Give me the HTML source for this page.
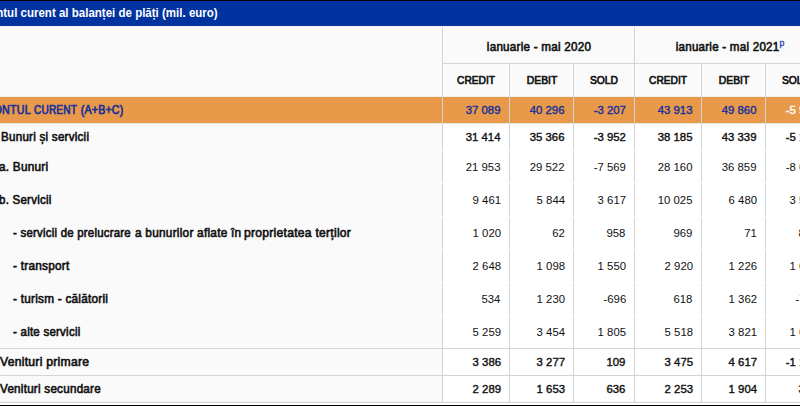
<!DOCTYPE html>
<html lang="ro"><head><meta charset="utf-8"><title>Contul curent al balantei de plati</title>
<style>
html,body{margin:0;padding:0;}
body{width:800px;height:406px;overflow:hidden;background:#fff;position:relative;font-family:"Liberation Sans",sans-serif;font-size:11.6px;color:#111;}
.b{position:absolute;}
.t{position:absolute;white-space:nowrap;line-height:14px;height:14px;}
.L{transform-origin:0 50%;}
.R{transform-origin:100% 50%;text-align:right;}
.C{transform-origin:50% 50%;text-align:center;width:240px;}
.bold{font-weight:bold;}
.semi{-webkit-text-stroke:0.6px currentColor;}
.lab{font-size:12px;letter-spacing:0.25px;}
.semin{-webkit-text-stroke:0.4px currentColor;}
.semi2{-webkit-text-stroke:0.7px currentColor;}
.navy{color:#17309a;}
</style></head><body>
<div class="b" style="left:0px;top:27px;width:442px;height:375px;background:#fafafa"></div>
<div class="b" style="left:442px;top:27px;width:358px;height:70px;background:#fafafa"></div>
<div class="b" style="left:0px;top:0px;width:800px;height:1px;background:#000"></div>
<div class="b" style="left:0px;top:1px;width:800px;height:25px;background:#0033a0"></div>
<div class="b" style="left:0px;top:97px;width:800px;height:26px;background:#e8994a"></div>
<div class="b" style="left:0px;top:405px;width:800px;height:1px;background:#000"></div>
<div class="b" style="left:442px;top:63px;width:358px;height:1px;background:#d2d4d6"></div>
<div class="b" style="left:0px;top:96px;width:800px;height:1px;background:#eef0f2"></div>
<div class="b" style="left:0px;top:26px;width:800px;height:1px;background:#f3f2ef"></div>
<div class="b" style="left:0px;top:123px;width:800px;height:1px;background:#e4e7eb"></div>
<div class="b" style="left:0px;top:348px;width:800px;height:1px;background:#d2d4d6"></div>
<div class="b" style="left:0px;top:375px;width:800px;height:1px;background:#d2d4d6"></div>
<div class="b" style="left:0px;top:402px;width:800px;height:1px;background:#d2d4d6"></div>
<div class="b" style="left:442px;top:27px;width:1px;height:375px;background:#d2d4d6"></div>
<div class="b" style="left:509px;top:64px;width:1px;height:338px;background:#d2d4d6"></div>
<div class="b" style="left:573px;top:64px;width:1px;height:338px;background:#d2d4d6"></div>
<div class="b" style="left:634px;top:27px;width:1px;height:375px;background:#d2d4d6"></div>
<div class="b" style="left:701px;top:64px;width:1px;height:338px;background:#d2d4d6"></div>
<div class="b" style="left:765px;top:64px;width:1px;height:338px;background:#d2d4d6"></div>
<div class="b" style="left:442px;top:150px;width:358px;height:1px;background:#fff"></div>
<div class="b" style="left:0px;top:150px;width:442px;height:1px;background:#fafafa"></div>
<div class="b" style="left:442px;top:183px;width:358px;height:1px;background:#fff"></div>
<div class="b" style="left:0px;top:183px;width:442px;height:1px;background:#fafafa"></div>
<div class="b" style="left:442px;top:216px;width:358px;height:1px;background:#fff"></div>
<div class="b" style="left:0px;top:216px;width:442px;height:1px;background:#fafafa"></div>
<div class="b" style="left:442px;top:249px;width:358px;height:1px;background:#fff"></div>
<div class="b" style="left:0px;top:249px;width:442px;height:1px;background:#fafafa"></div>
<div class="b" style="left:442px;top:282px;width:358px;height:1px;background:#fff"></div>
<div class="b" style="left:0px;top:282px;width:442px;height:1px;background:#fafafa"></div>
<div class="b" style="left:442px;top:315px;width:358px;height:1px;background:#fff"></div>
<div class="b" style="left:0px;top:315px;width:442px;height:1px;background:#fafafa"></div>
<div class="t R bold" style="top:6px;right:582.00px;transform:scaleX(0.9600);color:#fff;font-size:12px;">Contul curent al balanței de plăți (mil. euro)</div>
<div class="t C lab semi" style="top:40px;left:419.00px;transform:scaleX(0.9702);">ianuarie - mai 2020</div>
<div class="t C lab semi" style="top:40px;left:610.25px;transform:scaleX(0.9651);">ianuarie - mai 2021<span style="font-size:9px;position:relative;top:-5px;color:#2b3db0;-webkit-text-stroke:0.3px #2b3db0;letter-spacing:0">p</span></div>
<div class="t C semi2" style="top:73px;left:356.00px;transform:scaleX(0.8780);">CREDIT</div>
<div class="t C semi2" style="top:73px;left:421.50px;transform:scaleX(0.8930);">DEBIT</div>
<div class="t C semi2" style="top:73px;left:483.50px;transform:scaleX(0.8900);">SOLD</div>
<div class="t C semi2" style="top:73px;left:548.00px;transform:scaleX(0.8780);">CREDIT</div>
<div class="t C semi2" style="top:73px;left:613.50px;transform:scaleX(0.8930);">DEBIT</div>
<div class="t C semi2" style="top:73px;left:675.50px;transform:scaleX(0.8900);">SOLD</div>
<div class="t R lab semi2 navy" style="top:103px;right:768.70px;transform:scaleX(0.8893);">CONTUL</div>
<div class="t L lab semi2 navy" style="top:103px;left:34.20px;transform:scaleX(0.8362);">CURENT</div>
<div class="t R lab semi2 navy" style="top:103px;right:676.30px;transform:scaleX(0.8825);">(A+B+C)</div>
<div class="t R semin navy" style="top:103px;right:299.20px;transform:scaleX(0.9786);">37 089</div>
<div class="t R semin navy" style="top:103px;right:235.20px;transform:scaleX(0.9786);">40 296</div>
<div class="t R semin navy" style="top:103px;right:174.20px;transform:scaleX(0.9786);">-3 207</div>
<div class="t R semin navy" style="top:103px;right:107.20px;transform:scaleX(0.9786);">43 913</div>
<div class="t R semin navy" style="top:103px;right:43.20px;transform:scaleX(0.9786);">49 860</div>
<div class="t R semin" style="top:103px;right:-17.80px;transform:scaleX(0.9786);color:#fff;">-5 947</div>
<div class="t L lab semi" style="top:130px;left:1.30px;transform:scaleX(0.9679);">Bunuri și servicii</div>
<div class="t R semin" style="top:130px;right:299.20px;transform:scaleX(0.9786);">31 414</div>
<div class="t R semin" style="top:130px;right:235.20px;transform:scaleX(0.9786);">35 366</div>
<div class="t R semin" style="top:130px;right:174.20px;transform:scaleX(0.9786);">-3 952</div>
<div class="t R semin" style="top:130px;right:107.20px;transform:scaleX(0.9786);">38 185</div>
<div class="t R semin" style="top:130px;right:43.20px;transform:scaleX(0.9786);">43 339</div>
<div class="t R semin" style="top:130px;right:-17.80px;transform:scaleX(0.9786);">-5 154</div>
<div class="t L lab semi" style="top:160px;left:-0.80px;transform:scaleX(0.9805);">a. Bunuri</div>
<div class="t R " style="top:160px;right:299.20px;transform:scaleX(0.9786);">21 953</div>
<div class="t R " style="top:160px;right:235.20px;transform:scaleX(0.9786);">29 522</div>
<div class="t R " style="top:160px;right:174.20px;transform:scaleX(0.9786);">-7 569</div>
<div class="t R " style="top:160px;right:107.20px;transform:scaleX(0.9786);">28 160</div>
<div class="t R " style="top:160px;right:43.20px;transform:scaleX(0.9786);">36 859</div>
<div class="t R " style="top:160px;right:-17.80px;transform:scaleX(0.9786);">-8 699</div>
<div class="t L lab semi" style="top:193px;left:-0.80px;transform:scaleX(0.9598);">b. Servicii</div>
<div class="t R " style="top:193px;right:299.20px;transform:scaleX(0.9786);">9 461</div>
<div class="t R " style="top:193px;right:235.20px;transform:scaleX(0.9786);">5 844</div>
<div class="t R " style="top:193px;right:174.20px;transform:scaleX(0.9786);">3 617</div>
<div class="t R " style="top:193px;right:107.20px;transform:scaleX(0.9786);">10 025</div>
<div class="t R " style="top:193px;right:43.20px;transform:scaleX(0.9786);">6 480</div>
<div class="t R " style="top:193px;right:-17.80px;transform:scaleX(0.9786);">3 545</div>
<div class="t L lab semi" style="top:226px;left:13.00px;transform:scaleX(0.9510);">- servicii de prelucrare</div>
<div class="t L lab semi" style="top:226px;left:135.00px;transform:scaleX(0.9850);">a bunurilor aflate în</div>
<div class="t L lab semi" style="top:226px;left:243.75px;transform:scaleX(1.0110);">proprietatea terților</div>
<div class="t R " style="top:226px;right:299.20px;transform:scaleX(0.9786);">1 020</div>
<div class="t R " style="top:226px;right:235.20px;transform:scaleX(0.9786);">62</div>
<div class="t R " style="top:226px;right:174.20px;transform:scaleX(0.9786);">958</div>
<div class="t R " style="top:226px;right:107.20px;transform:scaleX(0.9786);">969</div>
<div class="t R " style="top:226px;right:43.20px;transform:scaleX(0.9786);">71</div>
<div class="t R " style="top:226px;right:-17.80px;transform:scaleX(0.9786);">898</div>
<div class="t L lab semi" style="top:259px;left:13.00px;transform:scaleX(0.9842);">- transport</div>
<div class="t R " style="top:259px;right:299.20px;transform:scaleX(0.9786);">2 648</div>
<div class="t R " style="top:259px;right:235.20px;transform:scaleX(0.9786);">1 098</div>
<div class="t R " style="top:259px;right:174.20px;transform:scaleX(0.9786);">1 550</div>
<div class="t R " style="top:259px;right:107.20px;transform:scaleX(0.9786);">2 920</div>
<div class="t R " style="top:259px;right:43.20px;transform:scaleX(0.9786);">1 226</div>
<div class="t R " style="top:259px;right:-17.80px;transform:scaleX(0.9786);">1 694</div>
<div class="t L lab semi" style="top:292px;left:13.00px;transform:scaleX(0.9814);">- turism - călătorii</div>
<div class="t R " style="top:292px;right:299.20px;transform:scaleX(0.9786);">534</div>
<div class="t R " style="top:292px;right:235.20px;transform:scaleX(0.9786);">1 230</div>
<div class="t R " style="top:292px;right:174.20px;transform:scaleX(0.9786);">-696</div>
<div class="t R " style="top:292px;right:107.20px;transform:scaleX(0.9786);">618</div>
<div class="t R " style="top:292px;right:43.20px;transform:scaleX(0.9786);">1 362</div>
<div class="t R " style="top:292px;right:-17.80px;transform:scaleX(0.9786);">-744</div>
<div class="t L lab semi" style="top:325px;left:13.00px;transform:scaleX(0.9580);">- alte servicii</div>
<div class="t R " style="top:325px;right:299.20px;transform:scaleX(0.9786);">5 259</div>
<div class="t R " style="top:325px;right:235.20px;transform:scaleX(0.9786);">3 454</div>
<div class="t R " style="top:325px;right:174.20px;transform:scaleX(0.9786);">1 805</div>
<div class="t R " style="top:325px;right:107.20px;transform:scaleX(0.9786);">5 518</div>
<div class="t R " style="top:325px;right:43.20px;transform:scaleX(0.9786);">3 821</div>
<div class="t R " style="top:325px;right:-17.80px;transform:scaleX(0.9786);">1 697</div>
<div class="t L lab semi" style="top:355px;left:0.00px;transform:scaleX(1.0144);">Venituri primare</div>
<div class="t R semin" style="top:355px;right:299.20px;transform:scaleX(0.9786);">3 386</div>
<div class="t R semin" style="top:355px;right:235.20px;transform:scaleX(0.9786);">3 277</div>
<div class="t R semin" style="top:355px;right:174.20px;transform:scaleX(0.9786);">109</div>
<div class="t R semin" style="top:355px;right:107.20px;transform:scaleX(0.9786);">3 475</div>
<div class="t R semin" style="top:355px;right:43.20px;transform:scaleX(0.9786);">4 617</div>
<div class="t R semin" style="top:355px;right:-17.80px;transform:scaleX(0.9786);">-1 142</div>
<div class="t L lab semi" style="top:382px;left:0.00px;transform:scaleX(0.9715);">Venituri secundare</div>
<div class="t R semin" style="top:382px;right:299.20px;transform:scaleX(0.9786);">2 289</div>
<div class="t R semin" style="top:382px;right:235.20px;transform:scaleX(0.9786);">1 653</div>
<div class="t R semin" style="top:382px;right:174.20px;transform:scaleX(0.9786);">636</div>
<div class="t R semin" style="top:382px;right:107.20px;transform:scaleX(0.9786);">2 253</div>
<div class="t R semin" style="top:382px;right:43.20px;transform:scaleX(0.9786);">1 904</div>
<div class="t R semin" style="top:382px;right:-17.80px;transform:scaleX(0.9786);">349</div>
</body></html>
